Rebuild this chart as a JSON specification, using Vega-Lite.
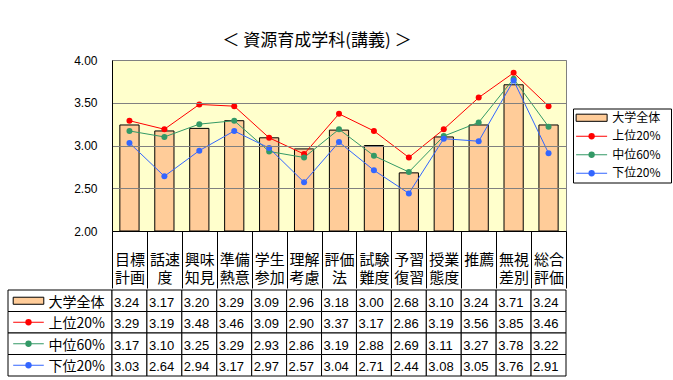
{
  "$schema": "https://vega.github.io/schema/vega-lite/v6.json",
  "padding": {"left": 7, "top": 31, "right": 3, "bottom": 0},
  "background": "white",
  "config": {
    "font": "Noto Sans CJK JP",
    "view": {"stroke": null},
    "concat": {"spacing": 0}
  },
  "title": {
    "text": "＜ 資源育成学科(講義) ＞",
    "anchor": "start",
    "dx": 215,
    "offset": 4,
    "fontSize": 17,
    "fontWeight": "normal",
    "font": "Noto Sans CJK JP",
    "color": "black"
  },
  "datasets": {
    "scores": [
      {"item": "目標|計画", "group": "大学全体", "score": 3.24},
      {"item": "話速|度", "group": "大学全体", "score": 3.17},
      {"item": "興味|知見", "group": "大学全体", "score": 3.20},
      {"item": "準備|熱意", "group": "大学全体", "score": 3.29},
      {"item": "学生|参加", "group": "大学全体", "score": 3.09},
      {"item": "理解|考慮", "group": "大学全体", "score": 2.96},
      {"item": "評価|法", "group": "大学全体", "score": 3.18},
      {"item": "試験|難度", "group": "大学全体", "score": 3.00},
      {"item": "予習|復習", "group": "大学全体", "score": 2.68},
      {"item": "授業|態度", "group": "大学全体", "score": 3.10},
      {"item": "推薦", "group": "大学全体", "score": 3.24},
      {"item": "無視|差別", "group": "大学全体", "score": 3.71},
      {"item": "総合|評価", "group": "大学全体", "score": 3.24},
      {"item": "目標|計画", "group": "上位20%", "score": 3.29},
      {"item": "話速|度", "group": "上位20%", "score": 3.19},
      {"item": "興味|知見", "group": "上位20%", "score": 3.48},
      {"item": "準備|熱意", "group": "上位20%", "score": 3.46},
      {"item": "学生|参加", "group": "上位20%", "score": 3.09},
      {"item": "理解|考慮", "group": "上位20%", "score": 2.90},
      {"item": "評価|法", "group": "上位20%", "score": 3.37},
      {"item": "試験|難度", "group": "上位20%", "score": 3.17},
      {"item": "予習|復習", "group": "上位20%", "score": 2.86},
      {"item": "授業|態度", "group": "上位20%", "score": 3.19},
      {"item": "推薦", "group": "上位20%", "score": 3.56},
      {"item": "無視|差別", "group": "上位20%", "score": 3.85},
      {"item": "総合|評価", "group": "上位20%", "score": 3.46},
      {"item": "目標|計画", "group": "中位60%", "score": 3.17},
      {"item": "話速|度", "group": "中位60%", "score": 3.10},
      {"item": "興味|知見", "group": "中位60%", "score": 3.25},
      {"item": "準備|熱意", "group": "中位60%", "score": 3.29},
      {"item": "学生|参加", "group": "中位60%", "score": 2.93},
      {"item": "理解|考慮", "group": "中位60%", "score": 2.86},
      {"item": "評価|法", "group": "中位60%", "score": 3.19},
      {"item": "試験|難度", "group": "中位60%", "score": 2.88},
      {"item": "予習|復習", "group": "中位60%", "score": 2.69},
      {"item": "授業|態度", "group": "中位60%", "score": 3.11},
      {"item": "推薦", "group": "中位60%", "score": 3.27},
      {"item": "無視|差別", "group": "中位60%", "score": 3.78},
      {"item": "総合|評価", "group": "中位60%", "score": 3.22},
      {"item": "目標|計画", "group": "下位20%", "score": 3.03},
      {"item": "話速|度", "group": "下位20%", "score": 2.64},
      {"item": "興味|知見", "group": "下位20%", "score": 2.94},
      {"item": "準備|熱意", "group": "下位20%", "score": 3.17},
      {"item": "学生|参加", "group": "下位20%", "score": 2.97},
      {"item": "理解|考慮", "group": "下位20%", "score": 2.57},
      {"item": "評価|法", "group": "下位20%", "score": 3.04},
      {"item": "試験|難度", "group": "下位20%", "score": 2.71},
      {"item": "予習|復習", "group": "下位20%", "score": 2.44},
      {"item": "授業|態度", "group": "下位20%", "score": 3.08},
      {"item": "推薦", "group": "下位20%", "score": 3.05},
      {"item": "無視|差別", "group": "下位20%", "score": 3.76},
      {"item": "総合|評価", "group": "下位20%", "score": 2.91}
    ]
  },
  "vconcat": [
    {
      "hconcat": [
        {
          "width": 104,
          "height": 171,
          "data": {"values": []},
          "mark": "point"
        },
        {
          "width": 454,
          "height": 171,
          "view": {"stroke": "#808080", "fill": "#FFFFCC"},
          "data": {"name": "scores"},
          "encoding": {
            "x": {
              "field": "item",
              "type": "nominal",
              "sort": null,
              "scale": {"paddingInner": 0, "paddingOuter": 0},
              "axis": {
                "title": null,
                "orient": "bottom",
                "domainColor": "black",
                "tickColor": "black",
                "tickSize": 57,
                "tickBand": "extent",
                "labelExpr": "split(datum.label, '|')",
                "labelPadding": -28.7,
                "labelBaseline": "middle",
                "labelFontSize": 15,
                "labelLineHeight": 18.5,
                "labelColor": "black",
                "labelAngle": 0,
                "labelOverlap": false,
                "labelFont": "Noto Sans CJK JP",
                "zindex": 1
              }
            },
            "y": {
              "field": "score",
              "type": "quantitative",
              "scale": {"domain": [2, 4], "zero": false, "nice": false},
              "axis": {
                "title": null,
                "values": [2, 2.5, 3, 3.5, 4],
                "format": ".2f",
                "grid": true,
                "gridColor": "#808080",
                "gridOpacity": 1,
                "domainColor": "black",
                "ticks": false,
                "labelPadding": 15,
                "labelFont": "Liberation Sans",
                "labelFontSize": 12,
                "labelColor": "black",
                "zindex": 1
              }
            }
          },
          "layer": [
            {
              "transform": [{"filter": "datum.group === '大学全体'"}],
              "mark": {"type": "bar", "width": {"band": 0.55}, "stroke": "black", "strokeWidth": 1, "opacity": 1},
              "encoding": {
                "y2": {"datum": 2},
                "color": {
                  "field": "group",
                  "type": "nominal",
                  "scale": {
                    "domain": ["大学全体", "上位20%", "中位60%", "下位20%"],
                    "range": ["#FFCC99", "#FF0000", "#339966", "#3366FF"]
                  },
                  "legend": null
                }
              }
            },
            {
              "transform": [{"filter": "datum.group !== '大学全体'"}],
              "mark": {"type": "line", "strokeWidth": 1},
              "encoding": {
                "color": {"field": "group", "type": "nominal", "legend": null},
                "detail": {"field": "group"}
              }
            },
            {
              "transform": [{"filter": "datum.group !== '大学全体'"}],
              "mark": {"type": "point", "filled": true, "shape": "circle", "size": 36, "opacity": 1},
              "encoding": {
                "color": {"field": "group", "type": "nominal", "legend": null}
              }
            }
          ]
        },
        {
          "width": 7,
          "height": 171,
          "data": {"values": []},
          "mark": "point"
        },
        {
          "width": 98,
          "height": 74,
          "view": {"stroke": "black", "fill": "white"},
          "data": {"name": "scores"},
          "transform": [{"filter": "datum.item === '目標|計画'"}],
          "encoding": {
            "y": {
              "field": "group",
              "type": "nominal",
              "scale": {"domain": ["大学全体", "上位20%", "中位60%", "下位20%"], "paddingInner": 0, "paddingOuter": 0.05},
              "axis": null
            }
          },
          "layer": [
            {
              "transform": [{"filter": "datum.group === '大学全体'"}],
              "mark": {"type": "point", "shape": "M-1,-0.23H1V0.23H-1Z", "size": 961, "filled": true, "stroke": "black", "strokeWidth": 1, "opacity": 1},
              "encoding": {
                "x": {"datum": 0.19, "type": "quantitative", "scale": {"domain": [0, 1]}, "axis": null},
                "color": {"field": "group", "type": "nominal", "legend": null}
              }
            },
            {
              "transform": [{"filter": "datum.group !== '大学全体'"}],
              "mark": {"type": "point", "shape": "M-1,0H1", "size": 961, "filled": false, "strokeWidth": 1, "opacity": 1},
              "encoding": {
                "x": {"datum": 0.19, "type": "quantitative"},
                "color": {"field": "group", "type": "nominal", "legend": null}
              }
            },
            {
              "transform": [{"filter": "datum.group !== '大学全体'"}],
              "mark": {"type": "point", "shape": "circle", "size": 40, "filled": true, "opacity": 1},
              "encoding": {
                "x": {"datum": 0.19, "type": "quantitative"},
                "color": {"field": "group", "type": "nominal", "legend": null}
              }
            },
            {
              "mark": {"type": "text", "align": "left", "baseline": "middle", "fontSize": 12, "font": "Noto Sans CJK JP", "color": "black"},
              "encoding": {
                "x": {"datum": 0.40, "type": "quantitative"},
                "text": {"field": "group"}
              }
            }
          ]
        }
      ],
      "spacing": 0,
      "bounds": "flush",
      "center": true
    },
    {
      "hconcat": [
        {
          "width": 104,
          "height": 86,
          "data": {"name": "scores"},
          "transform": [{"filter": "datum.item === '目標|計画'"}],
          "encoding": {
            "y": {
              "field": "group",
              "type": "nominal",
              "scale": {"domain": ["大学全体", "上位20%", "中位60%", "下位20%"], "paddingInner": 0, "paddingOuter": 0},
              "axis": null
            }
          },
          "layer": [
            {
              "mark": {"type": "rect", "fill": "white", "stroke": "black", "strokeWidth": 1},
              "encoding": {
                "x": {"datum": 0, "type": "quantitative", "scale": {"domain": [0, 1]}, "axis": null},
                "x2": {"datum": 1}
              }
            },
            {
              "transform": [{"filter": "datum.group === '大学全体'"}],
              "mark": {"type": "point", "shape": "M-1,-0.23H1V0.23H-1Z", "size": 936, "filled": true, "stroke": "black", "strokeWidth": 1, "opacity": 1},
              "encoding": {
                "x": {"datum": 0.197, "type": "quantitative"},
                "color": {"field": "group", "type": "nominal", "legend": null}
              }
            },
            {
              "transform": [{"filter": "datum.group !== '大学全体'"}],
              "mark": {"type": "point", "shape": "M-1,0H1", "size": 936, "filled": false, "strokeWidth": 1, "opacity": 1},
              "encoding": {
                "x": {"datum": 0.197, "type": "quantitative"},
                "color": {"field": "group", "type": "nominal", "legend": null}
              }
            },
            {
              "transform": [{"filter": "datum.group !== '大学全体'"}],
              "mark": {"type": "point", "shape": "circle", "size": 40, "filled": true, "opacity": 1},
              "encoding": {
                "x": {"datum": 0.197, "type": "quantitative"},
                "color": {"field": "group", "type": "nominal", "legend": null}
              }
            },
            {
              "mark": {"type": "text", "align": "left", "baseline": "middle", "fontSize": 14, "dy": 2, "font": "Noto Sans CJK JP", "color": "black"},
              "encoding": {
                "x": {"datum": 0.39, "type": "quantitative"},
                "text": {"field": "group"}
              }
            }
          ]
        },
        {
          "width": 454,
          "height": 86,
          "data": {"name": "scores"},
          "encoding": {
            "x": {
              "field": "item",
              "type": "nominal",
              "sort": null,
              "scale": {"paddingInner": 0, "paddingOuter": 0},
              "axis": null
            },
            "y": {
              "field": "group",
              "type": "nominal",
              "scale": {"domain": ["大学全体", "上位20%", "中位60%", "下位20%"], "paddingInner": 0, "paddingOuter": 0},
              "axis": null
            }
          },
          "layer": [
            {
              "mark": {"type": "rect", "fill": "white", "stroke": "black", "strokeWidth": 1}
            },
            {
              "mark": {"type": "text", "align": "left", "baseline": "middle", "dx": 2, "dy": 2, "fontSize": 13, "font": "Liberation Sans", "color": "black"},
              "encoding": {
                "x": {"field": "item", "type": "nominal", "sort": null, "bandPosition": 0},
                "text": {"field": "score", "type": "quantitative", "format": ".2f"}
              }
            }
          ]
        }
      ],
      "spacing": 0,
      "bounds": "flush"
    }
  ]
}
